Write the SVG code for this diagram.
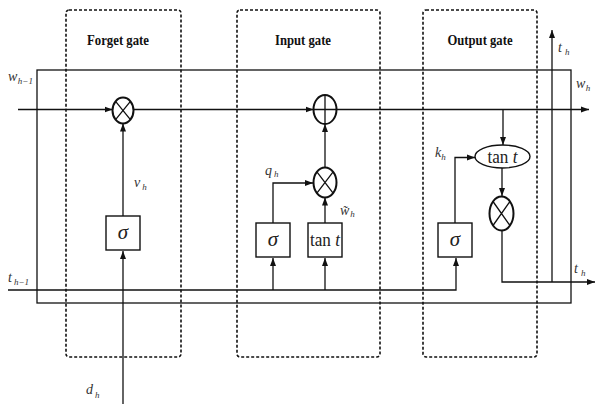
<svg xmlns="http://www.w3.org/2000/svg" width="595" height="404" viewBox="0 0 595 404">
  <style>
    .gate { fill: none; stroke: #111; stroke-width: 1.6; stroke-dasharray: 3 2; }
    .title { font-family: "Liberation Serif", "Times New Roman", serif; font-weight: bold; font-size: 14px; fill: #111; text-anchor: middle; }
    .wire { fill: none; stroke: #111; stroke-width: 1.3; }
    .arrow { fill: none; stroke: #111; stroke-width: 1.3; marker-end: url(#head); }
    .op { fill: #fff; stroke: #111; stroke-width: 2; }
    .box { fill: #fff; stroke: #111; stroke-width: 1.4; }
    .sym { font-family: "Liberation Serif", "Times New Roman", serif; font-style: italic; font-size: 21px; fill: #222; text-anchor: middle; }
    .fn { font-family: "Liberation Serif", "Times New Roman", serif; font-size: 18px; fill: #222; text-anchor: middle; }
    .lbl { font-family: "Liberation Serif", "Times New Roman", serif; font-style: italic; font-size: 14px; fill: #333; }
    .sub { font-size: 9px; }
  </style>
  <defs>
    <marker id="head" markerUnits="userSpaceOnUse" markerWidth="8" markerHeight="8" refX="8" refY="3.5" orient="auto">
      <path d="M0,0.5 L8,3.5 L0,6.5 Z" fill="#111"/>
    </marker>
  </defs>

  <!-- gate regions -->
  <g id="forget-gate">
    <rect class="gate" x="66" y="10" width="115" height="347" rx="3"/>
    <text class="title" x="118" y="45" textLength="62" lengthAdjust="spacingAndGlyphs">Forget gate</text>
  </g>
  <g id="input-gate">
    <rect class="gate" x="237" y="10" width="143" height="347" rx="3"/>
    <text class="title" x="303" y="45" textLength="56" lengthAdjust="spacingAndGlyphs">Input gate</text>
  </g>
  <g id="output-gate">
    <rect class="gate" x="423" y="10" width="114" height="347" rx="3"/>
    <text class="title" x="480" y="45" textLength="65" lengthAdjust="spacingAndGlyphs">Output gate</text>
  </g>

  <!-- connectors -->
  <g id="connectors">
    <rect class="wire" x="37" y="70" width="534" height="233"/>
    <path class="arrow" d="M18,109.5 H112.5"/>
    <path class="arrow" d="M133.5,109.5 H313.5"/>
    <path class="arrow" d="M336.5,109.5 H589"/>
    <path class="arrow" d="M8,290 H456 V258"/>
    <path class="arrow" d="M273,290 V258"/>
    <path class="arrow" d="M325,290 V258"/>
    <path class="arrow" d="M123,404 V251"/>
    <path class="arrow" d="M123,216 V123.5"/>
    <path class="arrow" d="M273,223 V183 H313"/>
    <path class="arrow" d="M325,223 V197.5"/>
    <path class="arrow" d="M325,167.5 V124"/>
    <path class="arrow" d="M503,109.5 V145"/>
    <path class="arrow" d="M455,223 V157.5 H475"/>
    <path class="arrow" d="M502,168 V196"/>
    <path class="arrow" d="M502,231 V282 H595"/>
    <path class="arrow" d="M552,282 V30"/>
  </g>

  <!-- forget gate nodes -->
  <g id="forget-mul">
    <ellipse class="op" cx="123" cy="110.5" rx="10.5" ry="13"/>
    <path class="wire" stroke-width="1.6" d="M115.6,101.3 L130.4,119.7 M130.4,101.3 L115.6,119.7"/>
  </g>
  <g id="forget-sigma">
    <rect class="box" x="106" y="216" width="34" height="34"/>
    <text class="sym" x="123" y="239">σ</text>
  </g>

  <!-- input gate nodes -->
  <g id="input-add">
    <ellipse class="op" cx="325" cy="109.5" rx="11.5" ry="14.5"/>
    <path class="wire" stroke-width="1.6" d="M325,95 V124 M313.5,109.5 H336.5"/>
  </g>
  <g id="input-mul">
    <ellipse class="op" cx="325" cy="182.5" rx="11.5" ry="15"/>
    <path class="wire" stroke-width="1.6" d="M316.9,171.9 L333.1,193.1 M333.1,171.9 L316.9,193.1"/>
  </g>
  <g id="input-sigma">
    <rect class="box" x="256" y="223" width="34" height="34"/>
    <text class="sym" x="273" y="246">σ</text>
  </g>
  <g id="input-tanh">
    <rect class="box" x="308" y="223" width="34" height="34"/>
    <text class="fn" x="325" y="246" textLength="30" lengthAdjust="spacingAndGlyphs">tan <tspan font-style="italic">t</tspan></text>
  </g>

  <!-- output gate nodes -->
  <g id="output-tanh">
    <ellipse class="box" cx="502.5" cy="156.5" rx="27.5" ry="11.5"/>
    <text class="fn" x="502.5" y="162.5" textLength="30" lengthAdjust="spacingAndGlyphs">tan <tspan font-style="italic">t</tspan></text>
  </g>
  <g id="output-sigma">
    <rect class="box" x="438" y="223" width="34" height="34"/>
    <text class="sym" x="455" y="246">σ</text>
  </g>
  <g id="output-mul">
    <ellipse class="op" cx="501.5" cy="213.5" rx="12" ry="17"/>
    <path class="wire" stroke-width="1.6" d="M493,201.5 L510,225.5 M510,201.5 L493,225.5"/>
  </g>

  <!-- signal labels -->
  <g id="labels">
    <text class="lbl" x="8" y="81">w<tspan class="sub" dx="0.5" dy="3">h−1</tspan></text>
    <text class="lbl" x="8" y="282">t<tspan class="sub" dx="2" dy="3">h−1</tspan></text>
    <text class="lbl" x="134" y="187">v<tspan class="sub" dx="2" dy="3">h</tspan></text>
    <text class="lbl" x="86" y="394">d<tspan class="sub" dx="2" dy="4">h</tspan></text>
    <text class="lbl" x="265" y="175">q<tspan class="sub" dx="2" dy="2">h</tspan></text>
    <text class="lbl" x="340" y="215" font-size="12">w̃<tspan class="sub" dx="1" dy="2">h</tspan></text>
    <text class="lbl" x="435" y="157" font-size="18">k<tspan class="sub" dy="3">h</tspan></text>
    <text class="lbl" x="558" y="52">t<tspan class="sub" dx="3" dy="3">h</tspan></text>
    <text class="lbl" x="576" y="88">w<tspan class="sub" dx="0.5" dy="3">h</tspan></text>
    <text class="lbl" x="574" y="273">t<tspan class="sub" dx="3" dy="3">h</tspan></text>
  </g>
</svg>
